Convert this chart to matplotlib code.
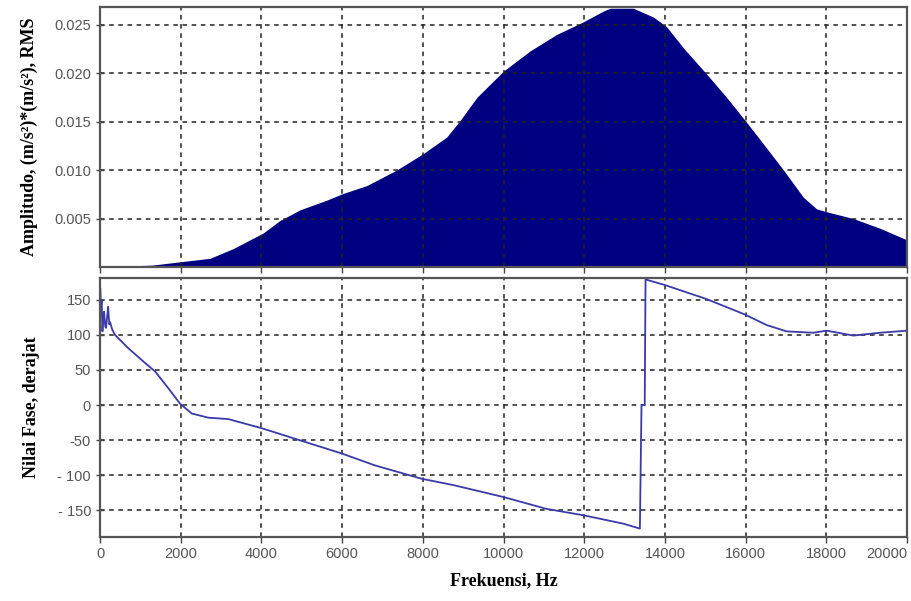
import numpy as np
import matplotlib.pyplot as plt

# spektrum amplitudo
amp_freq = [0, 1300, 2025, 2726, 3300, 4040, 4460, 4957, 5618, 6030, 6610, 7350,
            8010, 8590, 8920, 9340, 9995, 10660, 11320, 11980, 12470, 12640, 13220,
            13380, 13710, 14040, 14460, 15035, 15530, 16030, 16440, 16940, 17430,
            17760, 18010, 18670, 19330, 20000]
amp_val = [0.0, 0.0002, 0.00056, 0.0009, 0.0019, 0.0035, 0.0048, 0.0059, 0.0069,
           0.0076, 0.0084, 0.0100, 0.0117, 0.0134, 0.0151, 0.0175, 0.0202, 0.0223,
           0.0240, 0.0253, 0.0264, 0.0267, 0.0267, 0.0264, 0.0258, 0.0248, 0.0226,
           0.0199, 0.0175, 0.0149, 0.0127, 0.0100, 0.0072, 0.0060, 0.0057, 0.0050,
           0.0040, 0.0028]

# fase (derajat)
fase_freq = [0, 5, 20, 40, 60, 80, 100, 130, 150, 180, 200, 230, 250, 300, 370,
             700, 1115, 1363, 1693, 1982, 2272, 2684, 3180, 4007, 4832, 5990, 6815,
             7970, 8755, 9994, 11070, 11977, 12968, 13380, 13420, 13500, 13520,
             14000, 15034, 15983, 16520, 17016, 17675, 18010, 18670, 19330, 20000]
fase_val = [70, 167, 138, 150, 105, 125, 133, 112, 110, 128, 140, 115, 118, 108, 100,
            81, 60, 48, 24, 2, -12, -18, -20, -33, -48, -69, -86,
            -105, -114, -131, -148, -157, -169, -176, 0, 0, 179,
            171, 151, 129, 114, 105, 103, 106, 99, 103, 106]

xticks = list(range(0, 20001, 2000))
amp_ticks = [0.005, 0.010, 0.015, 0.020, 0.025]
fase_ticks = [-150, -100, -50, 0, 50, 100, 150]
fase_ticklabels = ['- 150', '- 100', '-50', '0', '50', '100', '150']

fig = plt.figure(figsize=(9.11, 6.01), dpi=100)
ax1 = fig.add_axes([0.1098, 0.5557, 0.8858, 0.4322])
ax2 = fig.add_axes([0.1098, 0.1065, 0.8858, 0.4309])

tick_font = dict(family='Liberation Sans', size=10.5, color='#555555')
label_font = dict(family='Liberation Serif', size=13, weight='bold')

ax1.fill_between(amp_freq, amp_val, 0, color='#000080', lw=0)
ax1.set_ylim(0, 0.0268)
ax1.set_yticks(amp_ticks)
ax1.set_yticklabels(['%.3f' % v for v in amp_ticks], **tick_font)
ax1.set_ylabel('Amplitudo, (m/s²)*(m/s²), RMS', **label_font)
ax1.yaxis.set_label_coords(-0.077, 0.5)

ax2.plot(fase_freq, fase_val, color='#3a3aa8', lw=1.3)
ax2.set_ylim(-188, 181)
ax2.set_yticks(fase_ticks)
ax2.set_yticklabels(fase_ticklabels, **tick_font)
ax2.set_ylabel('Nilai Fase, derajat', **label_font)
ax2.yaxis.set_label_coords(-0.074, 0.5)
ax2.set_xlabel('Frekuensi, Hz', labelpad=8, **label_font)

for ax in (ax1, ax2):
    ax.set_xlim(0, 20000)
    ax.set_xticks(xticks)
    ax.grid(True, color='#222222', ls=(0, (3, 3)), lw=1.1)
    ax.tick_params(axis='y', direction='inout', length=6, width=1, color='#444444')
    ax.tick_params(axis='x', direction='out', length=4, width=1, color='#444444')
    for sp in ax.spines.values():
        sp.set_color('#555555')
        sp.set_linewidth(1.6)

ax1.set_xticklabels([])
ax2.set_xticklabels([str(v) for v in xticks], **tick_font)
ax2.get_xticklabels()[-1].set_ha('right')

fig.savefig('out.png', dpi=100)
